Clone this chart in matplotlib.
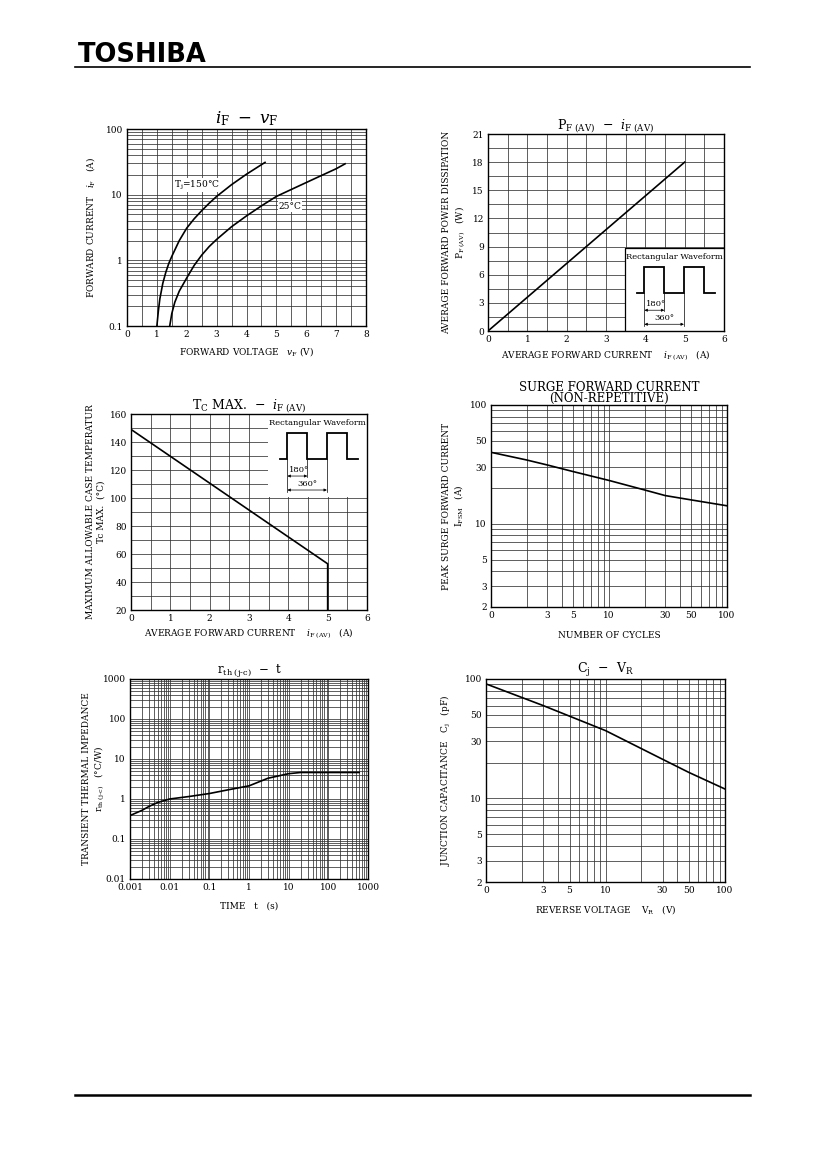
import matplotlib
matplotlib.use("Agg")
import matplotlib.pyplot as plt
from matplotlib.lines import Line2D
from matplotlib.patches import Rectangle
import matplotlib.ticker as mticker

plt.rcParams['font.family'] = 'DejaVu Serif'
plt.rcParams['mathtext.fontset'] = 'dejavuserif'

W, H = 826, 1169

# iF - vF
vf_150 = [1.0, 1.05, 1.1, 1.2, 1.3, 1.4, 1.5, 1.75, 2.0, 2.25, 2.5, 2.75, 3.0, 3.5, 4.0, 4.62]
if_150 = [0.1, 0.17, 0.26, 0.45, 0.66, 0.9, 1.15, 2.0, 3.1, 4.3, 5.7, 7.4, 9.4, 14.2, 20.5, 31]
vf_25 = [1.43, 1.5, 1.6, 1.75, 2.0, 2.25, 2.5, 2.75, 3.0, 3.5, 4.0, 4.5, 5.0, 5.5, 6.0, 6.5, 7.0, 7.3]
if_25 = [0.1, 0.155, 0.23, 0.34, 0.54, 0.84, 1.2, 1.62, 2.08, 3.25, 4.75, 6.75, 9.4, 12.0, 15.3, 19.5, 24.8, 29.5]

# PF(AV) - iF(AV)
ifav_pf = [0, 5]
pf_av = [0, 18]

# Tc max - iF(AV)
ifav_tc = [0, 5, 5]
tc_max = [149, 53, 20]

# surge forward current
cycles = [1, 2, 3, 5, 10, 20, 30, 50, 100]
ifsm = [40, 34.5, 31.3, 27.5, 23.2, 19.3, 17.3, 15.9, 14.2]

# rth(j-c) - t
t_s = [0.001, 0.002, 0.003, 0.005, 0.01, 0.03, 0.1, 0.3, 1, 3, 10, 20, 100, 600]
rth = [0.385, 0.52, 0.65, 0.82, 1.0, 1.15, 1.37, 1.7, 2.13, 3.3, 4.3, 4.6, 4.6, 4.6]

# Cj - VR
vr = [1, 3, 10, 30, 50, 100]
cj = [91, 60, 37, 21.3, 16.5, 12]

FS = 6.5
GRID = dict(color='0.2', lw=0.55)


def rect(l, t, r, b):
    return [l / W, 1 - b / H, (r - l) / W, (b - t) / H]


def style(ax):
    ax.tick_params(which='both', length=0, labelsize=FS, pad=3)
    ax.grid(True, which='both', **GRID)
    ax.set_axisbelow(True)
    for s in ax.spines.values():
        s.set_linewidth(1.0)


def waveform(ax, y0, border):
    h = 0.422
    x0 = 0.58
    ax.add_patch(Rectangle((x0, y0), 1 - x0, h, transform=ax.transAxes,
                           facecolor='white', edgecolor='none', zorder=2))
    if border:
        ax.plot([x0, x0, 1], [y0, y0 + h, y0 + h], transform=ax.transAxes,
                color='black', lw=0.9, zorder=3)
    Y = lambda f: y0 + f * h
    xs = [0.63, 0.663, 0.663, 0.747, 0.747, 0.83, 0.83, 0.915, 0.915, 0.962]
    ys = [0.455, 0.455, 0.765, 0.765, 0.455, 0.455, 0.765, 0.765, 0.455, 0.455]
    ax.plot(xs, [Y(v) for v in ys], transform=ax.transAxes, color='black',
            lw=1.3, zorder=3, solid_joinstyle='miter')
    ax.text(0.79, Y(0.886), 'Rectangular Waveform', transform=ax.transAxes,
            ha='center', va='center', fontsize=6.0, zorder=4)
    for x, ybot in [(0.663, 0.062), (0.747, 0.235), (0.83, 0.062)]:
        ax.plot([x, x], [Y(ybot), Y(0.455)], transform=ax.transAxes,
                color='black', lw=0.5, zorder=3)
    ap = dict(arrowstyle='<|-|>', lw=0.5, color='black', mutation_scale=4,
              shrinkA=0, shrinkB=0)
    ax.annotate('', xy=(0.663, Y(0.25)), xytext=(0.747, Y(0.25)),
                xycoords='axes fraction', arrowprops=ap, zorder=4)
    ax.annotate('', xy=(0.663, Y(0.081)), xytext=(0.83, Y(0.081)),
                xycoords='axes fraction', arrowprops=ap, zorder=4)
    ax.text(0.668, Y(0.32), '180°', transform=ax.transAxes, ha='left',
            va='center', fontsize=6, zorder=4)
    ax.text(0.746, Y(0.155), '360°', transform=ax.transAxes, ha='center',
            va='center', fontsize=6, zorder=4)


fig = plt.figure(figsize=(W / 100, H / 100), dpi=100)

# header / footer
fig.text(78 / W, 1 - 62 / H, 'TOSHIBA', family='DejaVu Sans', weight='bold',
         fontsize=18.5, ha='left', va='baseline')
fig.add_artist(Line2D([75 / W, 750 / W], [1 - 67 / H, 1 - 67 / H], color='black', lw=1.2))
fig.add_artist(Line2D([75 / W, 750 / W], [1 - 1095 / H, 1 - 1095 / H], color='black', lw=1.8))

# ---- iF - vF
ax1 = fig.add_axes(rect(127, 129, 366, 326))
ax1.set_yscale('log')
ax1.set_xlim(0, 8)
ax1.set_ylim(0.1, 100)
ax1.xaxis.set_major_locator(mticker.MultipleLocator(1))
ax1.xaxis.set_minor_locator(mticker.MultipleLocator(0.5))
ax1.set_yticks([0.1, 1, 10, 100], ['0.1', '1', '10', '100'])
style(ax1)
ax1.plot(vf_150, if_150, color='black', lw=1.2, zorder=5)
ax1.plot(vf_25, if_25, color='black', lw=1.2, zorder=5)
ax1.text(2.35, 14, r'T$_{\rm j}$=150°C', fontsize=6.5, ha='center', va='center',
         zorder=3, bbox=dict(facecolor='white', edgecolor='none', pad=0.5))
ax1.text(5.45, 6.6, '25°C', fontsize=6.5, ha='center', va='center',
         zorder=3, bbox=dict(facecolor='white', edgecolor='none', pad=0.5))
ax1.set_title(r'$i_{\rm F}\ -\ v_{\rm F}$', fontsize=12, pad=4)
ax1.set_xlabel(r'FORWARD VOLTAGE   $v_{\rm F}$ (V)', fontsize=FS, labelpad=4)
ax1.set_ylabel(r'FORWARD CURRENT   $i_{\rm F}$   (A)', fontsize=FS, labelpad=6)

# ---- PF(AV) - iF(AV)
ax2 = fig.add_axes(rect(488, 134, 724, 331))
ax2.set_xlim(0, 6)
ax2.set_ylim(0, 21)
ax2.xaxis.set_major_locator(mticker.MultipleLocator(1))
ax2.xaxis.set_minor_locator(mticker.MultipleLocator(0.5))
ax2.yaxis.set_major_locator(mticker.MultipleLocator(3))
ax2.yaxis.set_minor_locator(mticker.MultipleLocator(1.5))
style(ax2)
ax2.plot(ifav_pf, pf_av, color='black', lw=1.2)
waveform(ax2, 0.0, True)
ax2.set_title(r'P$_{\rm F\ (AV)}$  $-$  $i_{\rm F\ (AV)}$', fontsize=9, pad=4)
ax2.set_xlabel(r'AVERAGE FORWARD CURRENT    $i_{\rm F\ (AV)}$   (A)', fontsize=FS, labelpad=3)
ax2.set_ylabel('AVERAGE FORWARD POWER DISSIPATION\n' + r'P$_{\rm F\ (AV)}$   (W)',
               fontsize=FS, labelpad=4)

# ---- Tc max - iF(AV)
ax3 = fig.add_axes(rect(131, 414, 367, 610))
ax3.set_xlim(0, 6)
ax3.set_ylim(20, 160)
ax3.xaxis.set_major_locator(mticker.MultipleLocator(1))
ax3.xaxis.set_minor_locator(mticker.MultipleLocator(0.5))
ax3.yaxis.set_major_locator(mticker.MultipleLocator(20))
ax3.yaxis.set_minor_locator(mticker.MultipleLocator(10))
style(ax3)
ax3.plot(ifav_tc, tc_max, color='black', lw=1.2)
waveform(ax3, 0.578, False)
ax3.set_title(r'T$_{\rm C}$ MAX.  $-$  $i_{\rm F\ (AV)}$', fontsize=9, pad=4)
ax3.set_xlabel(r'AVERAGE FORWARD CURRENT    $i_{\rm F\ (AV)}$   (A)', fontsize=FS, labelpad=2)
ax3.set_ylabel('MAXIMUM ALLOWABLE CASE TEMPERATUR\nTc MAX.  (°C)',
               fontsize=FS, labelpad=3)

# ---- surge forward current
ax4 = fig.add_axes(rect(491, 405, 727, 607))
ax4.set_xscale('log')
ax4.set_yscale('log')
ax4.set_xlim(1, 100)
ax4.set_ylim(2, 100)
ax4.set_xticks([1, 3, 5, 10, 30, 50, 100], ['0', '3', '5', '10', '30', '50', '100'])
ax4.set_xticks([2, 4, 6, 7, 8, 9, 20, 40, 60, 70, 80, 90], minor=True)
ax4.set_yticks([2, 3, 5, 10, 30, 50, 100], ['2', '3', '5', '10', '30', '50', '100'])
ax4.set_yticks([4, 6, 7, 8, 9, 20, 40, 60, 70, 80, 90], minor=True)
ax4.xaxis.set_minor_formatter(mticker.NullFormatter())
ax4.yaxis.set_minor_formatter(mticker.NullFormatter())
style(ax4)
ax4.plot(cycles, ifsm, color='black', lw=1.2)
ax4.set_title('SURGE FORWARD CURRENT\n(NON-REPETITIVE)', fontsize=8.5,
              linespacing=0.8, pad=2)
ax4.set_xlabel('NUMBER OF CYCLES', fontsize=FS, labelpad=8)
ax4.set_ylabel('PEAK SURGE FORWARD CURRENT\n' + r'I$_{\rm FSM}$   (A)',
               fontsize=FS, labelpad=3)

# ---- rth(j-c) - t
ax5 = fig.add_axes(rect(130, 679, 368, 879))
ax5.set_xscale('log')
ax5.set_yscale('log')
ax5.set_xlim(0.001, 1000)
ax5.set_ylim(0.01, 1000)
ax5.set_xticks([0.001, 0.01, 0.1, 1, 10, 100, 1000],
               ['0.001', '0.01', '0.1', '1', '10', '100', '1000'])
ax5.set_yticks([0.01, 0.1, 1, 10, 100, 1000],
               ['0.01', '0.1', '1', '10', '100', '1000'])
ax5.xaxis.set_minor_locator(mticker.LogLocator(base=10, subs=range(2, 10), numticks=20))
ax5.yaxis.set_minor_locator(mticker.LogLocator(base=10, subs=range(2, 10), numticks=20))
ax5.xaxis.set_minor_formatter(mticker.NullFormatter())
ax5.yaxis.set_minor_formatter(mticker.NullFormatter())
style(ax5)
ax5.plot(t_s, rth, color='black', lw=1.2)
ax5.set_title(r'r$_{\rm th\ (j\text{-}c)}$  $-$  t', fontsize=8.5, pad=4)
ax5.set_xlabel('TIME   t   (s)', fontsize=FS, labelpad=7)
ax5.set_ylabel('TRANSIENT THERMAL IMPEDANCE\n' + r'r$_{\rm th\ (j\text{-}c)}$   (°C/W)',
               fontsize=FS, labelpad=-3)

# ---- Cj - VR
ax6 = fig.add_axes(rect(486, 679, 725, 882))
ax6.set_xscale('log')
ax6.set_yscale('log')
ax6.set_xlim(1, 100)
ax6.set_ylim(2, 100)
ax6.set_xticks([1, 3, 5, 10, 30, 50, 100], ['0', '3', '5', '10', '30', '50', '100'])
ax6.set_xticks([2, 4, 6, 7, 8, 9, 20, 40, 60, 70, 80, 90], minor=True)
ax6.set_yticks([2, 3, 5, 10, 30, 50, 100], ['2', '3', '5', '10', '30', '50', '100'])
ax6.set_yticks([4, 6, 7, 8, 9, 20, 40, 60, 70, 80, 90], minor=True)
ax6.xaxis.set_minor_formatter(mticker.NullFormatter())
ax6.yaxis.set_minor_formatter(mticker.NullFormatter())
style(ax6)
ax6.plot(vr, cj, color='black', lw=1.2)
ax6.set_title(r'C$_{\rm j}$  $-$  V$_{\rm R}$', fontsize=9, pad=4)
ax6.set_xlabel(r'REVERSE VOLTAGE    V$_{\rm R}$   (V)', fontsize=FS, labelpad=6)
ax6.set_ylabel(r'JUNCTION CAPACITANCE   C$_{\rm j}$   (pF)', fontsize=FS, labelpad=8)

fig.savefig('out.png', dpi=100)
